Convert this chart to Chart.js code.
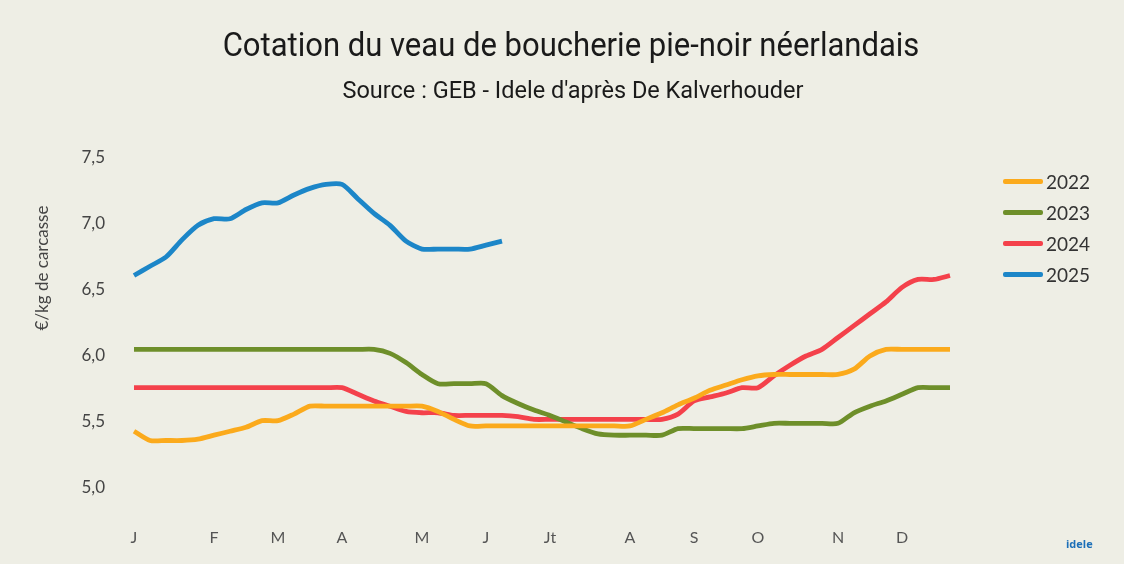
<!DOCTYPE html>
<html>
<head>
<meta charset="utf-8">
<script src="https://cdn.jsdelivr.net/npm/chart.js@4.4.1/dist/chart.umd.min.js"></script>
<style>
  html, body { margin: 0; padding: 0; background: #eeeee5; }
  #wrap { position: relative; width: 1124px; height: 564px; overflow: hidden; }
  #myChart { position: absolute; left: 0; top: 0; }
  .ttl { position: absolute; width: 1124px; text-align: center; font-family: Roboto, "Open Sans", sans-serif; color: #1a1a1a; white-space: nowrap; }
  #title { left: 9px; top: 26px; font-size: 33px; line-height: 38px; transform: scaleX(0.94); }
  #subtitle { left: 11px; top: 76px; font-size: 23.5px; line-height: 28px; }
  #legend { position: absolute; left: 1003px; top: 166px; font-family: Lato, "Open Sans", sans-serif; }
  .lg-row { height: 31px; display: flex; align-items: center; }
  .lg-line { width: 40px; height: 5px; border-radius: 2px; margin-right: 3px; }
  .lg-txt { font-size: 19px; color: #333; }
  #logo { position: absolute; left: 1066px; top: 536px; font-family: "Open Sans", sans-serif; font-weight: bold; font-size: 11px; color: #1c6fb8; }
</style>
</head>
<body>
<div id="wrap">
  <canvas id="myChart" width="1124" height="564"></canvas>
  <div class="ttl" id="title">Cotation du veau de boucherie pie-noir néerlandais</div>
  <div class="ttl" id="subtitle">Source : GEB - Idele d'après De Kalverhouder</div>
  <div id="legend"></div>
  <div id="logo">idele</div>
</div>
<script>
// weekly quotes, 52 weeks; month letter placed at the week where it appears on the axis
const monthLetters = ["J", "F", "M", "A", "M", "J", "Jt", "A", "S", "O", "N", "D"];
const monthWeeks   = [0, 5, 9, 13, 18, 22, 26, 31, 35, 39, 44, 48];

const years = ["2022", "2023", "2024", "2025"];
const colors = ["#fbaa1c", "#6e8f2a", "#f4414b", "#1c86c8"];

const v2022 = [5.43, 5.36, 5.36, 5.36, 5.37, 5.40, 5.43, 5.46, 5.51, 5.51,
               5.56, 5.62, 5.62, 5.62, 5.62, 5.62, 5.62, 5.62, 5.62, 5.58,
               5.52, 5.47, 5.47, 5.47, 5.47, 5.47, 5.47, 5.47, 5.47, 5.47,
               5.47, 5.47, 5.52, 5.57, 5.63, 5.68, 5.74, 5.78, 5.82, 5.85,
               5.86, 5.86, 5.86, 5.86, 5.86, 5.90, 6.00, 6.05, 6.05, 6.05,
               6.05, 6.05];
const v2023 = [6.05, 6.05, 6.05, 6.05, 6.05, 6.05, 6.05, 6.05, 6.05, 6.05,
               6.05, 6.05, 6.05, 6.05, 6.05, 6.05, 6.02, 5.95, 5.86, 5.79,
               5.79, 5.79, 5.79, 5.70, 5.64, 5.59, 5.55, 5.50, 5.45, 5.41,
               5.40, 5.40, 5.40, 5.40, 5.45, 5.45, 5.45, 5.45, 5.45, 5.47,
               5.49, 5.49, 5.49, 5.49, 5.49, 5.57, 5.62, 5.66, 5.71, 5.76,
               5.76, 5.76];
const v2024 = [5.76, 5.76, 5.76, 5.76, 5.76, 5.76, 5.76, 5.76, 5.76, 5.76,
               5.76, 5.76, 5.76, 5.76, 5.71, 5.66, 5.62, 5.58, 5.57, 5.57,
               5.55, 5.55, 5.55, 5.55, 5.54, 5.52, 5.52, 5.52, 5.52, 5.52,
               5.52, 5.52, 5.52, 5.52, 5.56, 5.66, 5.69, 5.72, 5.76, 5.76,
               5.85, 5.93, 6.00, 6.05, 6.14, 6.23, 6.32, 6.41, 6.52, 6.58,
               6.58, 6.61];
const v2025 = [6.61, 6.68, 6.75, 6.88, 6.99, 7.04, 7.04, 7.11, 7.16, 7.16,
               7.22, 7.27, 7.30, 7.30, 7.19, 7.08, 6.99, 6.87, 6.81, 6.81,
               6.81, 6.81, 6.84, 6.87];

const yTicks = [5.0, 5.5, 6.0, 6.5, 7.0, 7.5];
const yTitle = "€/kg de carcasse";

// build the 52 category labels, empty except at month positions
const weekLabels = [];
for (let i = 0; i < 52; i++) weekLabels.push("");
monthWeeks.forEach((w, i) => { weekLabels[w] = monthLetters[i]; });

const series = [v2022, v2023, v2024, v2025];
const datasets = series.map((vals, i) => ({
  label: years[i],
  data: vals,
  borderColor: colors[i],
  backgroundColor: colors[i],
  borderWidth: 4.8,
  pointRadius: 0,
  tension: 0.25,
  fill: false
}));

// y axis title drawn a bit above the middle, like the original
const yTitlePlugin = {
  id: "yTitle",
  afterDraw(chart) {
    const ctx = chart.ctx;
    ctx.save();
    ctx.translate(43, 268);
    ctx.rotate(-Math.PI / 2);
    ctx.font = "17px Lato, 'Open Sans', sans-serif";
    ctx.fillStyle = "#444";
    ctx.textAlign = "center";
    ctx.textBaseline = "middle";
    ctx.fillText(yTitle, 0, 0);
    ctx.restore();
  }
};

const chart = new Chart(document.getElementById("myChart"), {
  type: "line",
  data: { labels: weekLabels, datasets: datasets },
  options: {
    responsive: false,
    animation: false,
    layout: { padding: { top: 158, right: 174, bottom: 0, left: 0 } },
    plugins: { legend: { display: false }, tooltip: { enabled: false } },
    scales: {
      x: {
        offset: false,
        grid: { display: false, drawTicks: false },
        border: { display: false },
        ticks: {
          autoSkip: false, maxRotation: 0, padding: 40,
          color: "#555", font: { family: "Lato, 'Open Sans', sans-serif", size: 16 },
          callback: (v, i) => weekLabels[i]
        },
        afterFit: (s) => { s.height = 76; }
      },
      y: {
        min: 5, max: 7.5,
        grid: { display: false, drawTicks: false },
        border: { display: false },
        afterBuildTicks: (s) => { s.ticks = yTicks.map(v => ({ value: v })); },
        ticks: {
          padding: 29,
          color: "#444", font: { family: "Lato, 'Open Sans', sans-serif", size: 17 },
          callback: (v) => Number(v).toFixed(1).replace(".", ",")
        },
        afterFit: (s) => { s.width = 134; }
      }
    }
  },
  plugins: [yTitlePlugin]
});

// html legend from the datasets
const lg = document.getElementById("legend");
chart.data.datasets.forEach(ds => {
  lg.innerHTML += '<div class="lg-row"><div class="lg-line" style="background:' + ds.borderColor +
    '"></div><span class="lg-txt">' + ds.label + '</span></div>';
});
</script>
</body>
</html>
